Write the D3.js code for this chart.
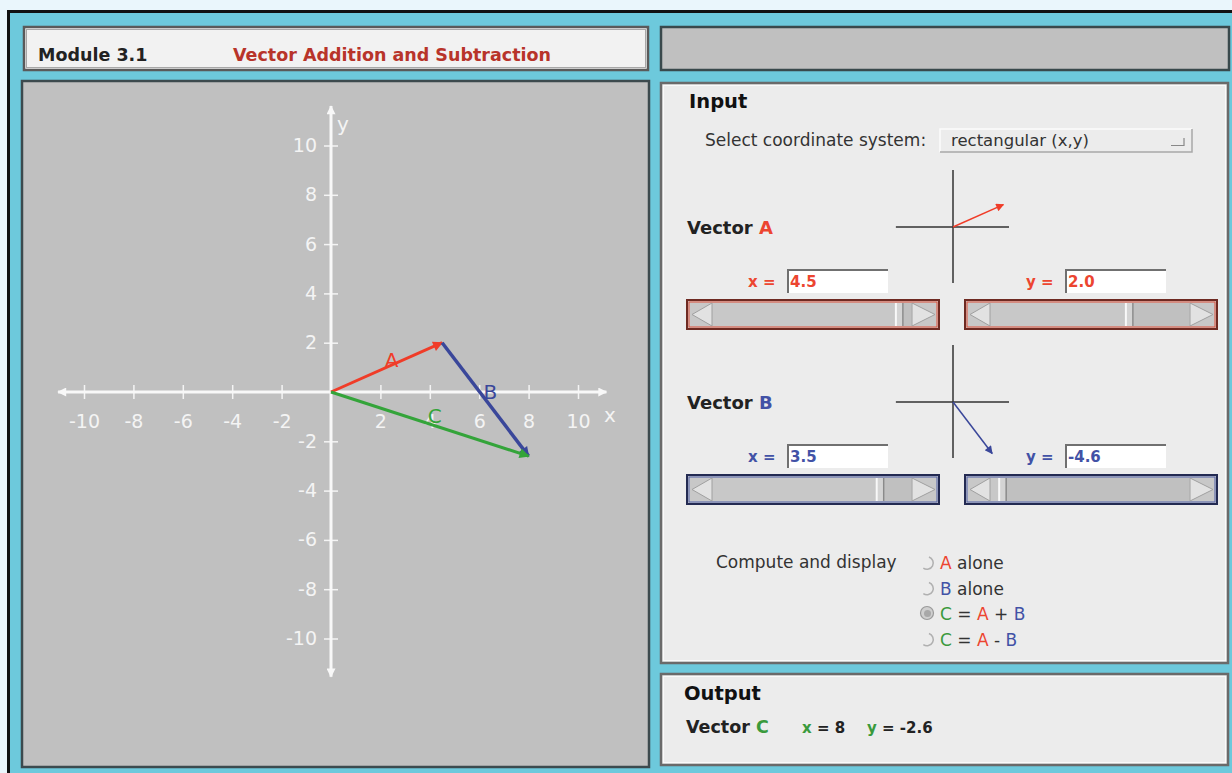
<!doctype html>
<html>
<head>
<meta charset="utf-8">
<title>Module 3.1</title>
<script src="https://cdn.jsdelivr.net/npm/d3@7"></script>
<style>
  body { margin: 0; background: #eaf6fc; }
  svg { display: block; font-family: "DejaVu Sans", sans-serif; }
</style>
</head>
<body>
<svg width="1232" height="773"></svg>
<script>
// values
var vecA = [4.5, 2.0];
var vecB = [3.5, -4.6];
var vecC = [8, -2.6];
var xTicks = [-10, -8, -6, -4, -2, 2, 4, 6, 8, 10];
var yTicks = [-10, -8, -6, -4, -2, 2, 4, 6, 8, 10];
var vecNames = ["A", "B", "C"];
var radioOptions = [
  [["A", "red"], [" alone", "ink"]],
  [["B", "blue"], [" alone", "ink"]],
  [["C", "green"], [" = ", "ink"], ["A", "red"], [" + ", "ink"], ["B", "blue"]],
  [["C", "green"], [" = ", "ink"], ["A", "red"], [" - ", "ink"], ["B", "blue"]]
];
var selectedOption = 2;

var col = { red: "#ec4530", blue: "#4252a6", green: "#3a9a3c", ink: "#333" };
var stroke = { A: "#f03c28", B: "#3a479a", C: "#34a43a" };

var svg = d3.select("svg");

// frame
svg.append("rect").attr("x", 8.5).attr("y", 11.5).attr("width", 1240).attr("height", 780)
  .attr("fill", "#6dc9dc").attr("stroke", "#111").attr("stroke-width", 3);

function panel(x, y, w, h, fill, dark, light) {
  svg.append("rect").attr("x", x).attr("y", y).attr("width", w).attr("height", h)
    .attr("fill", fill).attr("stroke", dark).attr("stroke-width", 2.5);
  if (light) svg.append("rect").attr("x", x + 2.5).attr("y", y + 2.5).attr("width", w - 5).attr("height", h - 5)
    .attr("fill", "none").attr("stroke", light).attr("stroke-width", 1);
}

panel(24, 27, 624, 43, "#f2f2f2", "#5a5a5a", "#a8a8a8");
panel(661, 27, 568, 43, "#c0c0c0", "#39494c", null);
panel(22, 81, 627, 686, "#c0c0c0", "#3c4a4e", null);
panel(661, 83, 567, 580, "#ececec", "#6a6a6a", "#fafafa");
panel(661, 674, 567, 91, "#ececec", "#6a6a6a", "#fafafa");

svg.append("text").attr("x", 38).attr("y", 61).attr("font-size", 17.5).attr("font-weight", "bold")
  .attr("fill", "#222").text("Module 3.1");
svg.append("text").attr("x", 233).attr("y", 61).attr("font-size", 17.5).attr("font-weight", "bold")
  .attr("fill", "#b8342a").text("Vector Addition and Subtraction");

// ---------- main graph ----------
var x = d3.scaleLinear().domain([-10, 10]).range([84, 578]);
var y = d3.scaleLinear().domain([-10, 10]).range([638.5, 145.5]);

var defs = svg.append("defs");
defs.append("marker").attr("id", "axarrow").attr("viewBox", "0 0 10 10")
  .attr("refX", 9).attr("refY", 5).attr("markerWidth", 11).attr("markerHeight", 9)
  .attr("markerUnits", "userSpaceOnUse").attr("orient", "auto-start-reverse")
  .append("path").attr("d", "M0,0L10,5L0,10Z").attr("fill", "#f8f8f8");
vecNames.forEach(function(n) {
  defs.append("marker").attr("id", "arr" + n).attr("viewBox", "0 0 10 10")
    .attr("refX", 9).attr("refY", 5).attr("markerWidth", 15).attr("markerHeight", 10)
    .attr("markerUnits", "userSpaceOnUse").attr("orient", "auto")
    .append("path").attr("d", "M0,0L10,5L0,10Z").attr("fill", stroke[n]);
});

var xAxis = d3.axisBottom(x).tickValues(xTicks).tickSize(7).tickPadding(0).tickFormat(String);
var yAxis = d3.axisLeft(y).tickValues(yTicks).tickSize(7).tickPadding(7).tickFormat(String);

var xg = svg.append("g").attr("transform", "translate(0," + y(0) + ")").call(xAxis);
var yg = svg.append("g").attr("transform", "translate(" + x(0) + ",0)").call(yAxis);
[xg, yg].forEach(function(g) {
  g.select(".domain").remove();
  g.selectAll(".tick line").attr("stroke", "#f4f4f4").attr("stroke-width", 1.5);
  g.selectAll(".tick text").attr("fill", "#f4f4f4").attr("font-size", 19)
    .attr("font-family", "DejaVu Sans, sans-serif");
});
xg.selectAll(".tick line").attr("y1", -7).attr("y2", 7);
xg.selectAll(".tick text").attr("y", 23).attr("dy", "0.71em");
yg.selectAll(".tick line").attr("x1", -7).attr("x2", 7);
yg.selectAll(".tick text").attr("x", -14);

svg.append("line").attr("x1", x(-11.05)).attr("x2", x(11.15)).attr("y1", y(0)).attr("y2", y(0))
  .attr("stroke", "#f8f8f8").attr("stroke-width", 3)
  .attr("marker-start", "url(#axarrow)").attr("marker-end", "url(#axarrow)");
svg.append("line").attr("x1", x(0)).attr("x2", x(0)).attr("y1", y(11.6)).attr("y2", y(-11.55))
  .attr("stroke", "#f8f8f8").attr("stroke-width", 3)
  .attr("marker-start", "url(#axarrow)").attr("marker-end", "url(#axarrow)");

svg.append("text").attr("x", x(0) + 6).attr("y", y(10.6)).attr("font-size", 20)
  .attr("fill", "#f4f4f4").text("y");
svg.append("text").attr("x", x(11.05)).attr("y", y(-1.2)).attr("font-size", 20)
  .attr("fill", "#f4f4f4").text("x");

var segs = [
  { n: "A", from: [0, 0], to: vecA },
  { n: "B", from: vecA, to: vecC },
  { n: "C", from: [0, 0], to: vecC }
];
segs.forEach(function(s) {
  svg.append("line")
    .attr("x1", x(s.from[0])).attr("y1", y(s.from[1]))
    .attr("x2", x(s.to[0])).attr("y2", y(s.to[1]))
    .attr("stroke", stroke[s.n]).attr("stroke-width", s.n === "B" ? 3.5 : 3)
    .attr("marker-end", "url(#arr" + s.n + ")");
  var mx = (x(s.from[0]) + x(s.to[0])) / 2, my = (y(s.from[1]) + y(s.to[1])) / 2;
  svg.append("text").attr("x", mx + 5).attr("y", my - 8).attr("dy", "0.36em")
    .attr("text-anchor", "middle").attr("font-size", 20)
    .attr("fill", stroke[s.n]).text(s.n);
});

// ---------- input panel ----------
svg.append("text").attr("x", 689).attr("y", 107.5).attr("font-size", 19.5).attr("font-weight", "bold")
  .attr("fill", "#111").text("Input");
svg.append("text").attr("x", 705).attr("y", 146).attr("font-size", 17).attr("fill", "#333")
  .text("Select coordinate system:");

// dropdown
svg.append("rect").attr("x", 940).attr("y", 129).attr("width", 252).attr("height", 23).attr("fill", "#ececec");
svg.append("path").attr("d", "M940,152V129H1192").attr("fill", "none").attr("stroke", "#fcfcfc").attr("stroke-width", 1.5);
svg.append("path").attr("d", "M940,152H1192V129").attr("fill", "none").attr("stroke", "#a8a8a8").attr("stroke-width", 1.5);
svg.append("path").attr("d", "M1171,145.5H1184V138").attr("fill", "none").attr("stroke", "#888").attr("stroke-width", 1.2);
svg.append("text").attr("x", 951).attr("y", 145.5).attr("font-size", 16.5).attr("fill", "#333")
  .text("rectangular (x,y)");

var thumb = d3.scaleLinear().domain([-5, 5]).range([30, 222]);
var mini = d3.scaleLinear().domain([-5, 5]).range([-56, 56]);

function slider(x0, y0, dark, bright, v) {
  var w = 252, h = 29;
  svg.append("rect").attr("x", x0).attr("y", y0).attr("width", w).attr("height", h)
    .attr("fill", "#c8c8c8").attr("stroke", dark).attr("stroke-width", 2);
  svg.append("rect").attr("x", x0 + 2).attr("y", y0 + 2).attr("width", w - 4).attr("height", h - 4)
    .attr("fill", "none").attr("stroke", bright).attr("stroke-width", 1);
  var t = x0 + thumb(v);
  svg.append("rect").attr("x", t + 4).attr("y", y0 + 3).attr("width", x0 + w - 28 - t - 4).attr("height", h - 6)
    .attr("fill", "#c0c0c0");
  svg.append("path").attr("d", "M" + (x0 + 25) + "," + (y0 + 3) + "V" + (y0 + h - 3) + "L" + (x0 + 5) + "," + (y0 + h / 2) + "Z")
    .attr("fill", "#e2e2e2").attr("stroke", "#a0a0a0").attr("stroke-width", 1);
  svg.append("path").attr("d", "M" + (x0 + w - 27) + "," + (y0 + 3) + "V" + (y0 + h - 3) + "L" + (x0 + w - 4) + "," + (y0 + h / 2) + "Z")
    .attr("fill", "#e2e2e2").attr("stroke", "#a0a0a0").attr("stroke-width", 1);
  svg.append("rect").attr("x", t - 4).attr("y", y0 + 3).attr("width", 8).attr("height", h - 6)
    .attr("fill", "#d4d4d4");
  svg.append("line").attr("x1", t - 3.5).attr("x2", t - 3.5).attr("y1", y0 + 3).attr("y2", y0 + h - 3)
    .attr("stroke", "#f8f8f8").attr("stroke-width", 2);
  svg.append("line").attr("x1", t + 3.5).attr("x2", t + 3.5).attr("y1", y0 + 3).attr("y2", y0 + h - 3)
    .attr("stroke", "#8a8a8a").attr("stroke-width", 1.5);
}

function field(x0, y0, label, v, c) {
  svg.append("text").attr("x", x0 - 40).attr("y", y0 + 17).attr("font-size", 15).attr("font-weight", "bold")
    .attr("fill", c).text(label + " =");
  svg.append("rect").attr("x", x0).attr("y", y0).attr("width", 100).attr("height", 23).attr("fill", "#fff");
  svg.append("path").attr("d", "M" + x0 + "," + (y0 + 23) + "V" + y0 + "H" + (x0 + 100))
    .attr("fill", "none").attr("stroke", "#707070").attr("stroke-width", 2);
  svg.append("text").attr("x", x0 + 2).attr("y", y0 + 17).attr("font-size", 15).attr("font-weight", "bold")
    .attr("fill", c).text(v.toFixed(1));
}

function vectorBlock(name, v, cy, c, sc, dark, bright) {
  svg.append("text").attr("x", 687).attr("y", cy + 6.5).attr("font-size", 18).attr("font-weight", "bold")
    .attr("fill", "#222").text("Vector ")
    .append("tspan").attr("fill", c).text(name);
  var cx = 953;
  svg.append("line").attr("x1", cx + mini(-5.1)).attr("x2", cx + mini(5)).attr("y1", cy).attr("y2", cy)
    .attr("stroke", "#333").attr("stroke-width", 1.5);
  svg.append("line").attr("x1", cx).attr("x2", cx).attr("y1", cy - mini(5.1)).attr("y2", cy + mini(5))
    .attr("stroke", "#333").attr("stroke-width", 1.5);
  svg.append("line").attr("x1", cx).attr("y1", cy).attr("x2", cx + mini(v[0])).attr("y2", cy - mini(v[1]))
    .attr("stroke", sc).attr("stroke-width", 1.5).attr("marker-end", "url(#mini" + name + ")");
  field(788, cy + 43, "x", v[0], c);
  field(1066, cy + 43, "y", v[1], c);
  slider(687, cy + 73, dark, bright, v[0]);
  slider(965, cy + 73, dark, bright, v[1]);
}

["A", "B"].forEach(function(n) {
  defs.append("marker").attr("id", "mini" + n).attr("viewBox", "0 0 10 10")
    .attr("refX", 9).attr("refY", 5).attr("markerWidth", 11).attr("markerHeight", 8)
    .attr("markerUnits", "userSpaceOnUse").attr("orient", "auto")
    .append("path").attr("d", "M0,0L10,5L0,10Z").attr("fill", stroke[n]);
});

vectorBlock("A", vecA, 227, col.red, stroke.A, "#6e2a22", "#e0503a");
vectorBlock("B", vecB, 402, col.blue, stroke.B, "#232a52", "#5060a8");

// radio options
svg.append("text").attr("x", 716).attr("y", 568).attr("font-size", 17).attr("fill", "#333")
  .text("Compute and display");
var arc = d3.arc().innerRadius(5.5).outerRadius(7).startAngle(0.1 * Math.PI).endAngle(1.2 * Math.PI);
radioOptions.forEach(function(opt, i) {
  var ry = 563 + i * 25.5;
  if (i === selectedOption) {
    svg.append("circle").attr("cx", 927).attr("cy", ry - 1).attr("r", 6.5).attr("fill", "#cfcfcf")
      .attr("stroke", "#9a9a9a").attr("stroke-width", 1.2);
    svg.append("circle").attr("cx", 927.5).attr("cy", ry - 0.5).attr("r", 3.5).attr("fill", "#a8a8a8");
  } else {
    svg.append("path").attr("d", arc()).attr("transform", "translate(927," + ry + ")").attr("fill", "#b0b0b0");
  }
  var t = svg.append("text").attr("x", 940).attr("y", ry + 6).attr("font-size", 17);
  opt.forEach(function(p) {
    t.append("tspan").attr("fill", col[p[1]]).attr("xml:space", "preserve").text(p[0]);
  });
});

// ---------- output panel ----------
svg.append("text").attr("x", 684).attr("y", 700).attr("font-size", 19.5).attr("font-weight", "bold")
  .attr("fill", "#111").text("Output");
var out = svg.append("text").attr("x", 686).attr("y", 733).attr("font-size", 17.5).attr("font-weight", "bold")
  .attr("fill", "#222").attr("xml:space", "preserve");
out.append("tspan").text("Vector ");
out.append("tspan").attr("fill", col.green).text("C");
out.append("tspan").attr("x", 802).attr("font-size", 15).attr("fill", col.green).text("x");
out.append("tspan").attr("font-size", 15).text(" = " + vecC[0]);
out.append("tspan").attr("x", 867).attr("font-size", 15).attr("fill", col.green).text("y");
out.append("tspan").attr("font-size", 15).text(" = " + vecC[1]);
</script>
</body>
</html>
